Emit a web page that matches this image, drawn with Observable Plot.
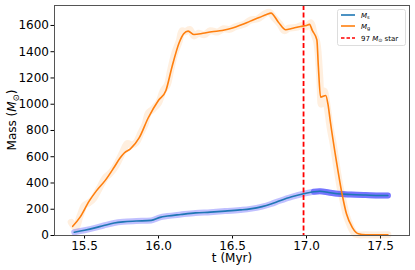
<!DOCTYPE html>
<html>
<head>
<meta charset="utf-8">
<script src="https://cdn.jsdelivr.net/npm/d3@7"></script>
<script src="https://cdn.jsdelivr.net/npm/@observablehq/plot@0.6"></script>
<style>
  html, body { margin: 0; padding: 0; background: #fff; }
  svg { font-family: "DejaVu Sans", sans-serif; }
</style>
</head>
<body>
<div id="chart"></div>
<script>
// Smoothed gas mass M_g
const tG = [15.42,15.47,15.53,15.58,15.64,15.70,15.74,15.77,15.81,15.87,15.93,16.00,16.05,16.09,16.14,16.17,16.20,16.24,16.30,16.36,16.43,16.50,16.56,16.62,16.68,16.73,16.76,16.81,16.86,16.90,16.96,17.00,17.02,17.04,17.07,17.08,17.095,17.13,17.145,17.16,17.20,17.24,17.27,17.31,17.35,17.40,17.50,17.55];
const mG = [70,140,260,340,420,520,590,630,660,745,895,1030,1105,1280,1470,1537,1557,1531,1540,1552,1562,1580,1605,1633,1660,1684,1694,1625,1567,1577,1592,1600,1608,1560,1490,1290,1054,1067,1000,876,580,318,165,60,13,6,5,5];
// Raw (noisy) gas mass
const tGraw = [15.41,15.44,15.47,15.50,15.53,15.56,15.60,15.64,15.67,15.70,15.73,15.76,15.79,15.82,15.85,15.88,15.91,15.93,15.96,16.00,16.03,16.06,16.08,16.11,16.14,16.16,16.18,16.21,16.24,16.27,16.31,16.35,16.40,16.44,16.48,16.52,16.58,16.62,16.67,16.72,16.75,16.78,16.82,16.85,16.88,16.93,16.97,17.00,17.03,17.05,17.07,17.09,17.10,17.12,17.14,17.16,17.18,17.21,17.23,17.25,17.27,17.29,17.31,17.33,17.40,17.55];
const mGraw = [100,60,150,230,250,280,360,440,470,510,570,640,700,690,710,780,850,930,960,1010,1100,1150,1250,1390,1480,1560,1550,1570,1520,1540,1530,1560,1550,1575,1570,1590,1610,1640,1650,1690,1700,1660,1610,1560,1580,1585,1600,1590,1620,1540,1470,1200,1000,1100,980,820,700,480,350,250,150,90,40,10,5,5];
// Stellar mass M_s
const tS = [15.43,15.50,15.57,15.63,15.70,15.76,15.85,15.95,16.01,16.06,16.15,16.25,16.35,16.45,16.55,16.62,16.70,16.76,16.82,16.90,16.98,17.05,17.09,17.15,17.21,17.30,17.40,17.50,17.55];
const mS = [25,40,58,76,95,104,110,115,138,148,160,172,178,186,195,203,220,240,265,295,318,333,337,328,318,312,308,305,305];
// Time of the 97 Msun star
const starT = [16.98];
const xTicks = [15.5, 16.0, 16.5, 17.0, 17.5];
const yTicks = [0, 200, 400, 600, 800, 1000, 1200, 1400, 1600];

const gas = tG.map((t, i) => ({t, m: mG[i]}));
const gasRaw = tGraw.map((t, i) => ({t, m: mGraw[i]}));
const stars = tS.map((t, i) => ({t, m: mS[i]}));
const starsLate = stars.filter(d => d.t >= 17.05);

const chart = Plot.plot({
  width: 415, height: 270,
  marginLeft: 54, marginRight: 6, marginTop: 5, marginBottom: 35,
  style: {fontSize: "12px", fontFamily: "DejaVu Sans, sans-serif", color: "#000", background: "#fff"},
  x: {domain: [15.297, 17.696], ticks: xTicks, tickFormat: d3.format(".1f"), label: null, tickSize: 3.5, tickPadding: 2},
  y: {domain: [0, 1752], ticks: yTicks, tickFormat: d => String(d), label: null, tickSize: 3.5, tickPadding: 2},
  marks: [
    Plot.line(gasRaw, {x: "t", y: "m", stroke: "#ff9f40", strokeOpacity: 0.17, strokeWidth: 7, curve: "catmull-rom"}),
    Plot.line(stars, {x: "t", y: "m", stroke: "#3030ff", strokeOpacity: 0.3, strokeWidth: 6, curve: "monotone-x"}),
    Plot.line(starsLate, {x: "t", y: "m", stroke: "#2a2aff", strokeOpacity: 0.5, strokeWidth: 6, curve: "monotone-x"}),
    Plot.line(stars, {x: "t", y: "m", stroke: "#1f77b4", strokeWidth: 1.6, curve: "monotone-x"}),
    Plot.line(gas, {x: "t", y: "m", stroke: "#ff7f0e", strokeWidth: 1.6, curve: "monotone-x"}),
    Plot.ruleX(starT, {stroke: "#ff0000", strokeWidth: 1.8, strokeDasharray: "5,2.6"}),
    Plot.frame({stroke: "#555", strokeWidth: 1})
  ]
});
document.getElementById("chart").appendChild(chart);

const svg = d3.select(chart);
// Axis labels
svg.append("text").attr("x", 232).attr("y", 262).attr("text-anchor", "middle")
  .attr("font-size", 12).attr("fill", "#000").text("t (Myr)");
const yl = svg.append("text").attr("transform", "translate(16,120) rotate(-90)")
  .attr("text-anchor", "middle").attr("font-size", 12).attr("fill", "#000");
yl.append("tspan").text("Mass (");
yl.append("tspan").attr("font-style", "italic").text("M");
yl.append("tspan").attr("font-size", 8.5).attr("dy", 3).text("⊙");
yl.append("tspan").attr("dy", -3).text(")");

// Legend
const lg = svg.append("g").attr("text-anchor", "start");
lg.append("rect").attr("x", 337.5).attr("y", 9.5).attr("width", 68).attr("height", 36)
  .attr("rx", 2).attr("fill", "#fff").attr("fill-opacity", 0.8).attr("stroke", "#ddd").attr("stroke-width", 1);
const items = [
  {y: 15, color: "#1f77b4", dash: null, sub: "s", pre: "", post: ""},
  {y: 26, color: "#ff7f0e", dash: null, sub: "g", pre: "", post: ""},
  {y: 38, color: "#ff0000", dash: "3.5,2", sub: "⊙", pre: "97 ", post: " star"}
];
for (const it of items) {
  lg.append("line").attr("x1", 341).attr("x2", 355).attr("y1", it.y).attr("y2", it.y)
    .attr("stroke", it.color).attr("stroke-width", 1.6).attr("stroke-dasharray", it.dash);
  const tx = lg.append("text").attr("x", 361).attr("y", it.y + 2.5).attr("text-anchor", "start")
    .attr("font-size", 7).attr("fill", "#000");
  if (it.pre) tx.append("tspan").text(it.pre);
  tx.append("tspan").attr("font-style", "italic").text("M");
  tx.append("tspan").attr("font-size", 5).attr("dy", 1.5).text(it.sub);
  if (it.post) tx.append("tspan").attr("dy", -1.5).text(it.post);
}
</script>
</body>
</html>
